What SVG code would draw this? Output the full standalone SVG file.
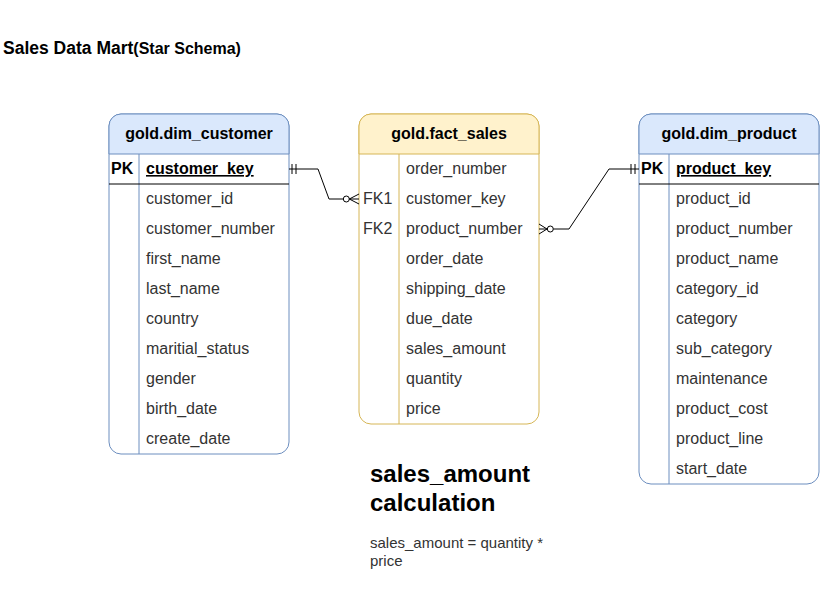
<svg xmlns="http://www.w3.org/2000/svg" width="827" height="589" viewBox="0 0 827 589">
<style>
text{font-family:"Liberation Sans",Arial,sans-serif;fill:#000;}
.hdr{font-size:16px;font-weight:bold;text-anchor:middle;}
.row{font-size:16px;fill:#333;}
.key{font-size:16px;font-weight:bold;text-decoration:underline;}
.pk{font-size:16px;font-weight:bold;}
.fk{font-size:16px;fill:#333;}
.blue .outline{fill:#fff;stroke:#6c8ebf;stroke-width:1;}
.blue .head{fill:#dae8fc;stroke:#6c8ebf;stroke-width:1;}
.blue .div{stroke:#6c8ebf;stroke-width:1;}
.yel .outline{fill:#fff;stroke:#d6b656;stroke-width:1;}
.yel .head{fill:#fff2cc;stroke:#d6b656;stroke-width:1;}
.yel .div{stroke:#d6b656;stroke-width:1;}
.sep{stroke:#000;stroke-width:1;}
.conn path,.conn line{fill:none;stroke:#000;stroke-width:1;}
.conn circle{fill:#fff;stroke:#000;stroke-width:1;}
</style>

<g id="title">
<text x="3" y="54" style="font-size:17.5px;font-weight:bold">Sales Data Mart<tspan style="font-size:16px">(Star Schema)</tspan></text>
</g>

<g id="dim_customer" class="blue">
<rect class="outline" x="109" y="114" width="180" height="340" rx="12" ry="12"/>
<path class="head" d="M109,154 V126 A12,12 0 0 1 121,114 H277 A12,12 0 0 1 289,126 V154 Z"/>
<line class="div" x1="139" y1="154" x2="139" y2="454"/>
<line class="sep" x1="109" y1="184" x2="289" y2="184"/>
<text class="hdr" x="199" y="139">gold.dim_customer</text>
<text class="pk" x="111" y="174">PK</text>
<text class="key" x="146" y="174">customer_key</text>
<text class="row" x="146" y="204">customer_id</text>
<text class="row" x="146" y="234">customer_number</text>
<text class="row" x="146" y="264">first_name</text>
<text class="row" x="146" y="294">last_name</text>
<text class="row" x="146" y="324">country</text>
<text class="row" x="146" y="354">maritial_status</text>
<text class="row" x="146" y="384">gender</text>
<text class="row" x="146" y="414">birth_date</text>
<text class="row" x="146" y="444">create_date</text>
</g>

<g id="fact_sales" class="yel">
<rect class="outline" x="359" y="114" width="180" height="310" rx="12" ry="12"/>
<path class="head" d="M359,154 V126 A12,12 0 0 1 371,114 H527 A12,12 0 0 1 539,126 V154 Z"/>
<line class="div" x1="399" y1="154" x2="399" y2="424"/>
<text class="hdr" x="449" y="139">gold.fact_sales</text>
<text class="row" x="406" y="174">order_number</text>
<text class="fk" x="363" y="204">FK1</text>
<text class="row" x="406" y="204">customer_key</text>
<text class="fk" x="363" y="234">FK2</text>
<text class="row" x="406" y="234">product_number</text>
<text class="row" x="406" y="264">order_date</text>
<text class="row" x="406" y="294">shipping_date</text>
<text class="row" x="406" y="324">due_date</text>
<text class="row" x="406" y="354">sales_amount</text>
<text class="row" x="406" y="384">quantity</text>
<text class="row" x="406" y="414">price</text>
</g>

<g id="dim_product" class="blue">
<rect class="outline" x="639" y="114" width="180" height="370" rx="12" ry="12"/>
<path class="head" d="M639,154 V126 A12,12 0 0 1 651,114 H807 A12,12 0 0 1 819,126 V154 Z"/>
<line class="div" x1="669" y1="154" x2="669" y2="484"/>
<line class="sep" x1="639" y1="184" x2="819" y2="184"/>
<text class="hdr" x="729" y="139">gold.dim_product</text>
<text class="pk" x="641" y="174">PK</text>
<text class="key" x="676" y="174">product_key</text>
<text class="row" x="676" y="204">product_id</text>
<text class="row" x="676" y="234">product_number</text>
<text class="row" x="676" y="264">product_name</text>
<text class="row" x="676" y="294">category_id</text>
<text class="row" x="676" y="324">category</text>
<text class="row" x="676" y="354">sub_category</text>
<text class="row" x="676" y="384">maintenance</text>
<text class="row" x="676" y="414">product_cost</text>
<text class="row" x="676" y="444">product_line</text>
<text class="row" x="676" y="474">start_date</text>
</g>

<g id="connectors" class="conn">
<g id="c1">
<path d="M289,169 H318 L329,199 H343"/>
<line x1="292" y1="164" x2="292" y2="174"/>
<line x1="296" y1="164" x2="296" y2="174"/>
<circle cx="346.3" cy="199" r="3"/>
<path d="M349.3,199 H359 M349.3,199 L359,194 M349.3,199 L359,204"/>
</g>
<g id="c2">
<path d="M539,229 H547.3 M553.3,229 H569 L609,169 H639"/>
<path d="M539,224 L547,229 L539,234"/>
<circle cx="550.3" cy="229" r="3"/>
<line x1="631" y1="164" x2="631" y2="174"/>
<line x1="635" y1="164" x2="635" y2="174"/>
</g>
</g>

<g id="note">
<text x="370" y="482" style="font-size:24px;font-weight:bold">sales_amount</text>
<text x="370" y="511" style="font-size:24px;font-weight:bold">calculation</text>
<text x="370" y="548" style="font-size:15px;fill:#333">sales_amount = quantity *</text>
<text x="370" y="566" style="font-size:15px;fill:#333">price</text>
</g>
</svg>
